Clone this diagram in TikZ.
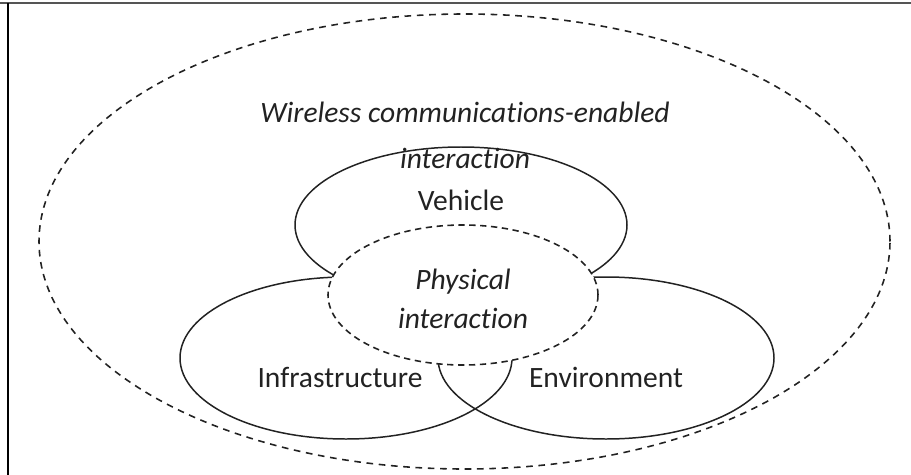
\documentclass[tikz,border=0pt]{standalone}
\usepackage{fontspec}
\setmainfont{Carlito}[RawFeature={-liga;-clig;-calt;-dlig;-hlig}]
\usepackage{xcolor}
\usepackage{tikz}
\usetikzlibrary{positioning}
\definecolor{framegray}{HTML}{555555}
\definecolor{inkgray}{HTML}{222222}

\begin{document}
\begin{tikzpicture}[
        region/.style={draw=inkgray, line width=0.85pt},
        linkline/.style={draw=inkgray, line width=0.9pt, dash pattern=on 3.8pt off 3.2pt},
        physline/.style={draw=inkgray, line width=0.9pt, dash pattern=on 3.6pt off 2.6pt, fill=white},
        lbl/.style={font=\fontsize{16.8}{19}\selectfont, text=inkgray, inner sep=0pt},
        itlbl/.style={lbl, font=\fontsize{16.8}{19}\selectfont\itshape}
    ]
    \useasboundingbox (0,0) rectangle (18.22,-9.5);

    % === Frame ===
    \draw[framegray, line width=0.04cm] (0,-0.07) -- (18.22,-0.07);
    \draw[black, line width=0.025cm] (0.16,-0.07) -- (0.16,-9.5);

    % === Wireless interaction ===
    \draw[linkline] (9.29,-4.83) ellipse [x radius=8.51, y radius=4.55];

    % === Vehicle, infrastructure, environment ===
    \draw[region] (9.22,-4.50) ellipse [x radius=3.32, y radius=1.56];
    \draw[region] (6.92,-7.16) ellipse [x radius=3.32, y radius=1.62];
    \draw[region] (12.12,-7.16) ellipse [x radius=3.36, y radius=1.62];

    % === Physical interaction ===
    \draw[physline] (9.26,-5.90) ellipse [x radius=2.70, y radius=1.40];

    % Labels
    \node[itlbl] (wireless) at (9.30,-2.24) {Wireless communications-enabled};
    \node[itlbl] (wirelesstwo) at (9.30,-3.16) {interaction};
    \node[lbl] (vehicle) at (9.22,-4.00) {Vehicle};
    \node[itlbl] (physical) at (9.26,-5.64) {Physical};
    \node[itlbl] (physicaltwo) at (9.26,-6.36) {interaction};
    \node[lbl] (infra) at (6.80,-7.54) {Infrastructure};
    \node[lbl] (environment) at (12.12,-7.54) {Environment};

\end{tikzpicture}
\end{document}
